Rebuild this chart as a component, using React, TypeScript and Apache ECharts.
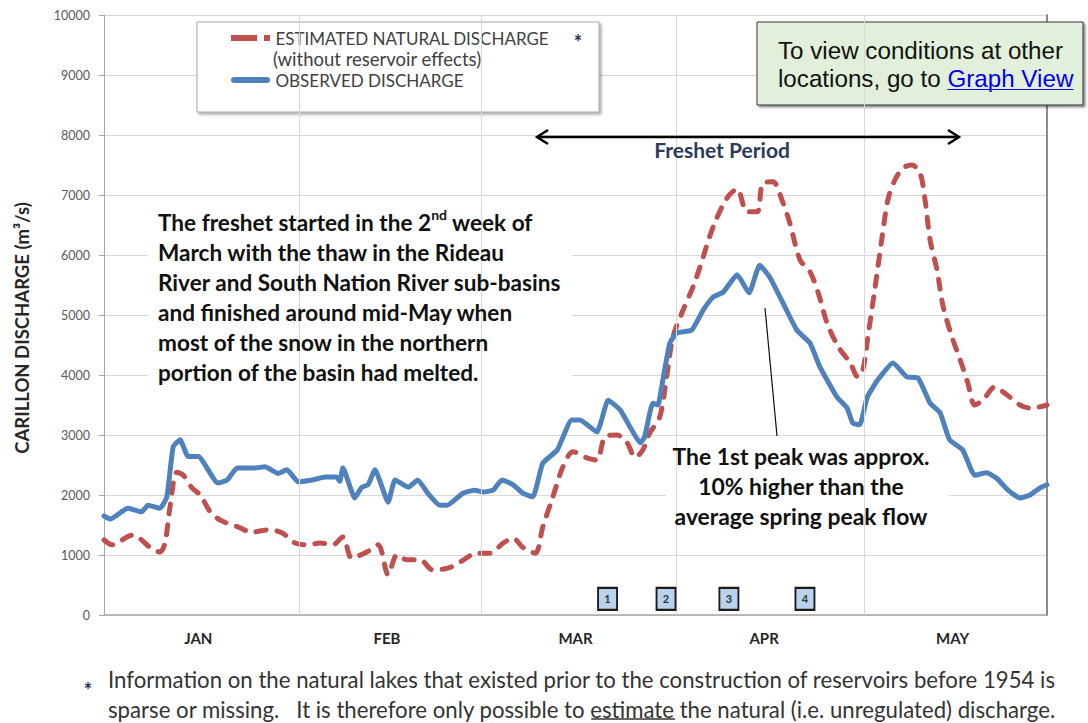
import React, { useEffect, useRef } from "react";
import * as echarts from "echarts";

// ---------- data ----------
const MONTHS = ["JAN", "FEB", "MAR", "APR", "MAY"];
// day index 0 = Jan 1 (leap year); first day of Feb, Mar, Apr, May
const MONTH_START_DAYS = [31, 60, 91, 121];
const DAY_MAX = 150;

const SERIES_NATURAL = "ESTIMATED NATURAL DISCHARGE";
const SERIES_OBSERVED = "OBSERVED DISCHARGE";

const OBSERVED: [number, number][] = [
  [0, 1650], [1.0, 1600], [3.8, 1780], [6.0, 1720], [7.0, 1830], [8.9, 1780], [10.0, 1970],
  [11.0, 2800], [12.1, 2920], [13.4, 2640], [15.0, 2640], [18.1, 2200], [19.6, 2250],
  [21.2, 2450], [24.0, 2450], [25.6, 2470], [27.7, 2360], [29.1, 2420], [30.9, 2220],
  [33.1, 2250], [35.2, 2300], [37.0, 2300], [37.5, 2230], [38.0, 2450], [39.9, 1950],
  [41.0, 2130], [42.0, 2170], [43.1, 2420], [45.2, 1880], [46.3, 2250], [48.4, 2130],
  [49.9, 2250], [51.5, 2030], [53.4, 1830], [54.6, 1830], [57.1, 2030], [59.0, 2080],
  [60.3, 2050], [61.9, 2080], [63.3, 2250], [65.1, 2170], [66.6, 2030], [68.2, 1970],
  [69.8, 2530], [72.1, 2750], [74.4, 3250], [75.7, 3250], [78.4, 3050], [80.2, 3580],
  [82.1, 3420], [83.7, 3130], [85.3, 2870], [86.0, 2970], [87.3, 3530], [88.1, 3500],
  [88.9, 3920], [90.0, 4530], [91.1, 4700], [93.5, 4750], [95.3, 5080], [96.9, 5300],
  [98.5, 5380], [100.7, 5670], [102.6, 5370], [104.3, 5830], [105.9, 5630], [108.0, 5200],
  [110.2, 4750], [112.3, 4530], [113.9, 4130], [116.6, 3630], [118.2, 3450], [119.1, 3200],
  [120.2, 3170], [121.4, 3630], [123.1, 3920], [125.5, 4200], [127.7, 3970], [129.5, 3950],
  [131.4, 3530], [133.0, 3370], [134.5, 2920], [136.6, 2750], [138.5, 2330], [140.4, 2370],
  [142.0, 2280], [143.8, 2080], [145.7, 1950], [147.3, 2000], [148.9, 2120], [150, 2170],
];

const NATURAL: [number, number][] = [
  [0, 1250], [1.3, 1170], [4.5, 1330], [5.4, 1300], [7.3, 1130], [8.9, 1050], [9.7, 1200],
  [10.5, 1800], [11.6, 2380], [12.6, 2330], [14.0, 2120], [15.3, 2000], [16.9, 1720],
  [18.5, 1580], [20.4, 1500], [21.3, 1470], [23.5, 1380], [26.1, 1420], [28.3, 1370],
  [30.4, 1200], [32.4, 1170], [34.4, 1200], [36.4, 1170], [38.0, 1300], [39.4, 950],
  [41.8, 1050], [43.6, 1170], [45.2, 670], [46.6, 1000], [48.2, 920], [50.3, 920],
  [52.3, 750], [54.7, 780], [56.6, 880], [59.3, 1030], [61.4, 1030], [63.5, 1200],
  [65.1, 1280], [66.6, 1130], [68.6, 1030], [69.8, 1470], [71.4, 1970], [73.0, 2470],
  [74.6, 2720], [76.8, 2620], [78.4, 2580], [79.7, 2970], [81.6, 3000], [83.2, 2870],
  [84.5, 2630], [85.7, 2750], [86.8, 3030], [88.4, 3300], [89.5, 3970], [90.5, 4630],
  [92.1, 5080], [93.7, 5470], [94.8, 5800], [96.9, 6470], [99.1, 6950], [100.7, 7100],
  [102.3, 6720], [103.9, 6720], [104.8, 7200], [106.4, 7220], [108.0, 6870], [109.1, 6530],
  [110.7, 5920], [112.3, 5720], [113.6, 5370], [115.0, 4870], [116.8, 4470], [118.7, 4200],
  [119.9, 3970], [120.7, 4080], [121.5, 4630], [122.6, 5420], [123.7, 6250], [124.7, 6920],
  [125.8, 7250], [127.1, 7450], [128.5, 7500], [129.8, 7370], [130.6, 6920], [131.4, 6250],
  [132.5, 5750], [133.5, 5130], [134.9, 4630], [136.2, 4250], [137.4, 3870], [138.5, 3500],
  [139.8, 3580], [141.7, 3800], [143.6, 3670], [145.7, 3500], [147.3, 3450], [148.9, 3470],
  [150, 3500],
];

const MARKER_DAYS = [80.1, 89.4, 99.4, 111.5];
const MARKER_LABELS = ["1", "2", "3", "4"];
const MARKER_LEVEL = 270;

const Y_MIN = 0;
const Y_MAX = 10000;
const Y_STEP = 1000;

const NOTE_LINES = [
  "The freshet started in the 2",
  "nd",
  " week of",
  "March with the thaw in the Rideau",
  "River and South Nation River sub-basins",
  "and finished around mid-May when",
  "most of the snow in the northern",
  "portion of the basin had melted.",
];
const PEAK_LINES = ["The 1st peak was approx.", "10% higher than the", "average spring peak flow"];
const LEGEND_SUB = "(without reservoir effects)";
const FOOT_1 =
  "Information on the natural lakes that existed prior to the construction of reservoirs before 1954 is";
const FOOT_2A = "sparse or missing.   It is therefore only possible to ";
const FOOT_2B = "estimate";
const FOOT_2C = " the natural (i.e. unregulated) discharge.";

// ---------- helpers ----------
let ctx: CanvasRenderingContext2D | null = null;
function measure(text: string, font: string): number {
  if (!ctx) ctx = document.createElement("canvas").getContext("2d");
  ctx!.font = font;
  return ctx!.measureText(text).width;
}
function fitSize(text: string, weight: string, family: string, target: number): number {
  const base = 20;
  const w = measure(text, `${weight} ${base}px ${family}`);
  return Math.round(((base * target) / w) * 10) / 10;
}

export default function App() {
  const ref = useRef<HTMLDivElement>(null);

  useEffect(() => {
    if (!ref.current) return;
    const chart = echarts.init(ref.current, null, { renderer: "svg" });

    const noteSize = fitSize(NOTE_LINES[4], "bold", "Lato", 404);
    const peakSize = fitSize(PEAK_LINES[0], "bold", "Lato", 258);
    const footSize = fitSize(FOOT_1, "normal", "Lato", 947);
    const boxSize = fitSize("To view conditions at other", "normal", '"Liberation Sans"', 285);
    const titleSize = fitSize("CARILLON DISCHARGE (m³/s)", "bold", "Lato", 252);
    const freshetSize = fitSize("Freshet Period", "bold", "Lato", 136);
    const legendSize = Math.min(17, fitSize(SERIES_NATURAL, "normal", "Lato", 282));
    const legendSubSize = Math.min(18.5, fitSize(LEGEND_SUB, "normal", "Lato", 220));

    const footFont = `normal ${footSize}px Lato`;
    const estX = 108 + measure(FOOT_2A, footFont);
    const estW = measure(FOOT_2B, footFont);
    const boxFont = `normal ${boxSize}px "Liberation Sans"`;
    const linkX = 778 + measure("locations, go to ", boxFont);
    const linkW = measure("Graph View", boxFont);

    const noteText =
      `{t|${NOTE_LINES[0]}}{s|${NOTE_LINES[1]}}{t|${NOTE_LINES[2]}}\n` +
      NOTE_LINES.slice(3).map((l) => `{t|${l}}`).join("\n");

    const option: any = {
      animation: false,
      backgroundColor: "#ffffff",
      grid: { left: 104, right: 41, top: 15, bottom: 108, containLabel: false },
      legend: {
        orient: "vertical",
        left: 231,
        top: 29,
        padding: 0,
        itemWidth: 40,
        itemHeight: 6,
        itemGap: 24,
        selectedMode: false,
        data: [
          { name: SERIES_NATURAL, icon: "path://M0,0H26V6H0Z M33,0H39V6H33Z" },
          { name: SERIES_OBSERVED, icon: "path://M3,0H36A3,3 0 0 1 36,6H3A3,3 0 0 1 3,0Z" },
        ],
        textStyle: {
          fontFamily: "Lato",
          fontSize: legendSize,
          lineHeight: 18,
          color: "#404040",
        },
        z: 5,
      },
      xAxis: [
        {
          type: "value",
          min: 0,
          max: DAY_MAX,
          axisLine: { show: true, lineStyle: { color: "#a6a6a6", width: 1.5 } },
          axisTick: { show: false },
          axisLabel: { show: false },
          splitLine: { show: false },
        },
        {
          type: "category",
          position: "bottom",
          data: MONTHS,
          boundaryGap: true,
          axisLine: { show: false },
          axisTick: { show: false },
          splitLine: { show: false },
          axisLabel: {
            margin: 15,
            fontFamily: "Lato",
            fontWeight: "bold",
            fontSize: 15,
            color: "#262626",
          },
        },
      ],
      yAxis: [
        {
          type: "value",
          min: Y_MIN,
          max: Y_MAX,
          interval: Y_STEP,
          axisLine: { show: true, lineStyle: { color: "#a6a6a6" } },
          axisTick: { show: true, length: 5, lineStyle: { color: "#a6a6a6" } },
          axisLabel: {
            margin: 14,
            fontFamily: "Lato",
            fontSize: 12.5,
            color: "#595959",
            formatter: (v: number) => String(v),
          },
          splitLine: { show: true, lineStyle: { color: "#d9d9d9", width: 1 } },
        },
        {
          type: "value",
          position: "right",
          min: Y_MIN,
          max: Y_MAX,
          interval: Y_STEP,
          axisLine: { show: true, lineStyle: { color: "#8c8c8c", width: 2 } },
          axisTick: { show: false },
          axisLabel: { show: false },
          splitLine: { show: false },
        },
      ],
      series: [
        {
          name: "_months",
          type: "line",
          data: [],
          silent: true,
          z: 0,
          markLine: {
            silent: true,
            symbol: ["none", "none"],
            label: { show: false },
            lineStyle: { color: "#d9d9d9", width: 1, type: "solid" },
            data: MONTH_START_DAYS.map((d) => ({ xAxis: d })),
          },
        },
        {
          name: SERIES_NATURAL,
          type: "line",
          data: NATURAL,
          symbol: "none",
          smooth: 0.3,
          z: 3,
          lineStyle: { color: "#c0504d", width: 5, type: [10, 11], cap: "round", join: "round" },
          itemStyle: { color: "#c0504d" },
        },
        {
          name: SERIES_OBSERVED,
          type: "line",
          data: OBSERVED,
          symbol: "none",
          smooth: 0.15,
          z: 3,
          lineStyle: { color: "#4f81bd", width: 5, cap: "round", join: "round" },
          itemStyle: { color: "#4f81bd" },
        },
        {
          name: "_markers",
          type: "line",
          data: [],
          silent: true,
          z: 6,
          markPoint: {
            silent: true,
            symbol: "rect",
            symbolSize: [19, 22],
            itemStyle: { color: "#b9d3ee", borderColor: "#1a1a1a", borderWidth: 2 },
            label: {
              show: true,
              position: "inside",
              formatter: "{b}",
              fontFamily: "Lato",
              fontWeight: "bold",
              fontSize: 11,
              color: "#333333",
            },
            data: MARKER_DAYS.map((d, i) => ({ name: MARKER_LABELS[i], coord: [d, MARKER_LEVEL] })),
          },
        },
      ],
      graphic: [
        // legend frame
        {
          type: "rect",
          z: 3,
          shape: { x: 197, y: 22, width: 402, height: 90 },
          style: {
            fill: "#ffffff",
            stroke: "#a6a6a6",
            lineWidth: 1,
            shadowColor: "rgba(0,0,0,0.35)",
            shadowBlur: 3,
            shadowOffsetX: 2,
            shadowOffsetY: 2,
          },
        },
        {
          type: "text",
          z: 6,
          x: 273,
          y: 59,
          style: {
            text: LEGEND_SUB,
            fill: "#404040",
            fontFamily: "Lato",
            fontSize: legendSubSize,
            lineHeight: 18,
            align: "left",
            verticalAlign: "middle",
          },
        },
        {
          type: "text",
          z: 6,
          x: 578,
          y: 42,
          style: {
            text: "*",
            fill: "#1f2d5a",
            fontFamily: "Lato",
            fontWeight: "bold",
            fontSize: 20,
            lineHeight: 14,
            align: "center",
            verticalAlign: "middle",
          },
        },
        // green info box
        {
          type: "rect",
          z: 3,
          shape: { x: 757, y: 22, width: 326, height: 83 },
          style: {
            fill: "#e2efda",
            stroke: "#333333",
            lineWidth: 1,
            shadowColor: "rgba(0,0,0,0.45)",
            shadowBlur: 2,
            shadowOffsetX: 2,
            shadowOffsetY: 2,
          },
        },
        {
          type: "text",
          z: 6,
          x: 778,
          y: 50,
          style: {
            text: "To view conditions at other",
            fill: "#111111",
            font: boxFont,
            align: "left",
            verticalAlign: "middle",
          },
        },
        {
          type: "text",
          z: 6,
          x: 778,
          y: 78,
          style: {
            text: "locations, go to ",
            fill: "#111111",
            font: boxFont,
            align: "left",
            verticalAlign: "middle",
          },
        },
        {
          type: "text",
          z: 6,
          x: linkX,
          y: 78,
          style: {
            text: "Graph View",
            fill: "#0000ee",
            font: boxFont,
            align: "left",
            verticalAlign: "middle",
          },
        },
        {
          type: "line",
          z: 6,
          shape: { x1: linkX, y1: 89.5, x2: linkX + linkW, y2: 89.5 },
          style: { stroke: "#0000ee", lineWidth: 1.2 },
        },
        // freshet arrow
        {
          type: "line",
          z: 6,
          shape: { x1: 537, y1: 137, x2: 959, y2: 137 },
          style: { stroke: "#000000", lineWidth: 2.5 },
        },
        {
          type: "polyline",
          z: 6,
          shape: { points: [[548, 130], [537, 137], [548, 144]] },
          style: { stroke: "#000000", lineWidth: 2.5, fill: null },
        },
        {
          type: "polyline",
          z: 6,
          shape: { points: [[948, 130], [959, 137], [948, 144]] },
          style: { stroke: "#000000", lineWidth: 2.5, fill: null },
        },
        {
          type: "text",
          z: 6,
          x: 722,
          y: 149,
          style: {
            text: "Freshet Period",
            fill: "#2a3b5c",
            fontFamily: "Lato",
            fontWeight: "bold",
            fontSize: freshetSize,
            align: "center",
            verticalAlign: "middle",
          },
        },
        // freshet note
        {
          type: "rect",
          z: 1,
          shape: { x: 148, y: 205, width: 424, height: 186 },
          style: { fill: "#ffffff" },
        },
        {
          type: "text",
          z: 6,
          x: 158,
          y: 207,
          style: {
            text: noteText,
            align: "left",
            verticalAlign: "top",
            rich: {
              t: {
                fontFamily: "Lato",
                fontWeight: "bold",
                fontSize: noteSize,
                lineHeight: 30,
                fill: "#111111",
              },
              s: {
                fontFamily: "Lato",
                fontWeight: "bold",
                fontSize: Math.round(noteSize * 0.6),
                lineHeight: 16,
                verticalAlign: "top",
                fill: "#111111",
              },
            },
          },
        },
        // peak note
        {
          type: "rect",
          z: 1,
          shape: { x: 666, y: 436, width: 283, height: 101 },
          style: { fill: "#ffffff" },
        },
        {
          type: "line",
          z: 6,
          shape: { x1: 765, y1: 308, x2: 777, y2: 436 },
          style: { stroke: "#111111", lineWidth: 1.2 },
        },
        {
          type: "text",
          z: 6,
          x: 801,
          y: 441,
          style: {
            text: PEAK_LINES.join("\n"),
            fill: "#111111",
            fontFamily: "Lato",
            fontWeight: "bold",
            fontSize: peakSize,
            lineHeight: 30,
            align: "center",
            verticalAlign: "top",
          },
        },
        // y axis title
        {
          type: "text",
          z: 6,
          x: 22,
          y: 328,
          rotation: Math.PI / 2,
          style: {
            text: "CARILLON DISCHARGE (m³/s)",
            fill: "#262626",
            fontFamily: "Lato",
            fontWeight: "bold",
            fontSize: titleSize,
            align: "center",
            verticalAlign: "middle",
          },
        },
        // footnote
        {
          type: "text",
          z: 6,
          x: 88,
          y: 690,
          style: {
            text: "*",
            fill: "#1f2d5a",
            fontFamily: "Lato",
            fontWeight: "bold",
            fontSize: 20,
            align: "center",
            verticalAlign: "middle",
          },
        },
        {
          type: "text",
          z: 6,
          x: 108,
          y: 679,
          style: { text: FOOT_1, fill: "#333333", font: footFont, align: "left", verticalAlign: "middle" },
        },
        {
          type: "text",
          z: 6,
          x: 108,
          y: 709,
          style: {
            text: FOOT_2A + FOOT_2B + FOOT_2C,
            fill: "#333333",
            font: footFont,
            align: "left",
            verticalAlign: "middle",
          },
        },
        {
          type: "line",
          z: 6,
          shape: { x1: estX, y1: 719, x2: estX + estW, y2: 719 },
          style: { stroke: "#333333", lineWidth: 1.3 },
        },
      ],
    };

    chart.setOption(option);
    return () => chart.dispose();
  }, []);

  return (
    <div
      ref={ref}
      style={{ position: "absolute", left: 0, top: 0, width: 1088, height: 723, background: "#fff" }}
    />
  );
}
